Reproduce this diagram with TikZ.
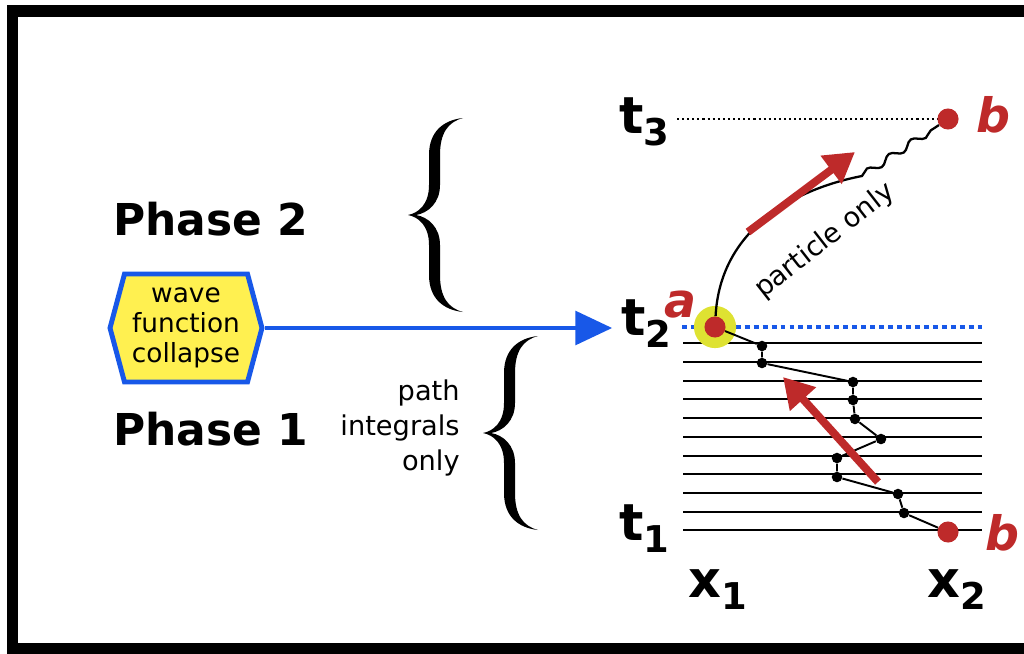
\documentclass[tikz,border=0pt]{standalone}
\usepackage{fontspec}
\setmainfont{DejaVu Sans}
\usepackage{tikz}
\usetikzlibrary{arrows.meta,shapes.symbols,decorations.pathmorphing}
\definecolor{figblue}{RGB}{24,88,232}
\definecolor{figyellow}{RGB}{255,240,80}
\definecolor{figred}{RGB}{190,42,42}
\definecolor{fighalo}{RGB}{222,226,50}
\newcommand{\sublab}[2]{#1\raisebox{-7pt}{\fontsize{21}{21}\selectfont #2}}
\tikzset{
  phase/.style  ={font=\fontsize{25}{25}\selectfont\bfseries, inner sep=0pt, anchor=base west},
  tag/.style    ={font=\fontsize{29}{29}\selectfont\bfseries, inner sep=0pt, anchor=base west},
  ptlab/.style  ={font=\fontsize{27}{27}\selectfont\bfseries\itshape, text=figred, inner sep=0pt, anchor=base west},
  note/.style   ={font=\fontsize{15.5}{20}\selectfont, inner sep=0pt, align=right},
  tilt/.style   ={font=\fontsize{15.5}{15.5}\selectfont, inner sep=0pt, rotate=38},
  hexbox/.style ={signal, signal to=west and east, signal pointer angle=150, draw=figblue, fill=figyellow,
                  line width=2.8pt, minimum width=3.04cm, minimum height=2.16cm, inner sep=0pt,
                  align=center, font=\fontsize{15}{17}\selectfont},
  rung/.style   ={draw=black, line width=1.1pt},
  walkdot/.style={circle, fill=black, inner sep=0pt, minimum size=6pt},
  endpt/.style  ={circle, fill=figred, inner sep=0pt, minimum size=12pt},
  halo/.style   ={circle, fill=fighalo, inner sep=0pt, minimum size=24pt},
  walk/.style   ={draw=black, line width=1.1pt},
  redptr/.style ={draw=figred, line width=4.5pt, -{Triangle[length=17pt,width=19pt]}},
  blueptr/.style={draw=figblue, line width=2.8pt, -{Triangle[length=21pt,width=19pt]}, shorten >=5pt},
  curly/.pic    ={
    \fill (55,-97) .. controls (36,-95) and (21,-84) .. (21,-60)
      -- (21,-30) .. controls (21,-10) and (10,-2) .. (0,0)
      .. controls (10,2) and (21,10) .. (21,30)
      -- (21,60) .. controls (21,84) and (36,95) .. (55,97)
      .. controls (40,93) and (32,82) .. (32,60)
      -- (32,30) .. controls (32,12) and (20,2) .. (8,0)
      .. controls (20,-2) and (32,-12) .. (32,-30)
      -- (32,-60) .. controls (32,-82) and (40,-93) .. (55,-97) -- cycle;
  },
}

\begin{document}
\begin{tikzpicture}[x=0.02cm,y=-0.02cm]
  \useasboundingbox (0,0) rectangle (1024,653);
  % frame
  \draw[line width=6.8pt] (12.5,11) rectangle (1040,649);

  % left side
  \node[phase] (ph2) at (113,235) {Phase 2};
  \node[phase] (ph1) at (113,445) {Phase 1};
  \node[hexbox] (collapse) at (186,328) {wave\\function\\collapse};
  \pic at (408,215) {curly};
  \pic at (483,433) {curly};
  \node[note,anchor=east] (pint) at (460,428) {path\\integrals\\only};

  % time and space labels
  \node[tag] (t3) at (619,133) {\sublab{t}{3}};
  \node[tag] (t2) at (621,335) {\sublab{t}{2}};
  \node[tag] (t1) at (619,540) {\sublab{t}{1}};
  \node[tag] (x1) at (688,597) {\sublab{x}{1}};
  \node[tag] (x2) at (927,597) {\sublab{x}{2}};
  \draw[blueptr] (collapse.east) -- (collapse.east -| t2.west);

  % time slices
  \draw[rung] (683,343) -- (982,343);
  \draw[rung] (683,362) -- (982,362);
  \draw[rung] (683,381) -- (982,381);
  \draw[rung] (683,399) -- (982,399);
  \draw[rung] (683,418) -- (982,418);
  \draw[rung] (683,437) -- (982,437);
  \draw[rung] (683,456) -- (982,456);
  \draw[rung] (683,474) -- (982,474);
  \draw[rung] (683,493) -- (982,493);
  \draw[rung] (683,512) -- (982,512);
  \draw[rung] (683,530) -- (982,530);
  \draw[draw=figblue,line width=2.3pt,dash pattern=on 2.8pt off 2.3pt] (682,327) -- (982,327);
  \draw[draw=black,line width=1.2pt,dash pattern=on 1.2pt off 1.7pt] (677,119) -- (937,119);

  % path integral walk
  \node[halo] (glow) at (715,327) {};
  \node[walkdot] (p1) at (762,346) {};
  \node[walkdot] (p2) at (762,363) {};
  \node[walkdot] (p3) at (853,382) {};
  \node[walkdot] (p4) at (853,400) {};
  \node[walkdot] (p5) at (855,419) {};
  \node[walkdot] (p6) at (881,439) {};
  \node[walkdot] (p7) at (837,458) {};
  \node[walkdot] (p8) at (837,477) {};
  \node[walkdot] (p9) at (898,494) {};
  \node[walkdot] (p10) at (904,513) {};
  \node[endpt] (a) at (715,327) {};
  \node[endpt] (bl) at (948,532) {};
  \node[endpt] (bt) at (948,119) {};
  \draw[walk] (a) -- (p1) -- (p2) -- (p3) -- (p4) -- (p5) -- (p6) -- (p7) -- (p8) -- (p9) -- (p10) -- (bl);

  % particle trajectory
  \draw[walk,line width=1.3pt] (a) .. controls (720,232) and (790,190) .. (862,176)
    decorate[decoration={snake,amplitude=2pt,segment length=15pt}] {-- (bt)};
  \node[tilt] (ponly) at (825,241) {particle only};

  % direction arrows
  \coordinate (upA) at (748,232);
  \coordinate (upB) at (855,152);
  \draw[redptr] (upA) -- (upB);
  \coordinate (dnA) at (878,482);
  \coordinate (dnB) at (783,377);
  \draw[redptr] (dnA) -- (dnB);

  % end point letters
  \node[ptlab] (la) at (664,317) {a};
  \node[ptlab] (lbt) at (976,132) {b};
  \node[ptlab] (lbl) at (985,550) {b};
\end{tikzpicture}
\end{document}
